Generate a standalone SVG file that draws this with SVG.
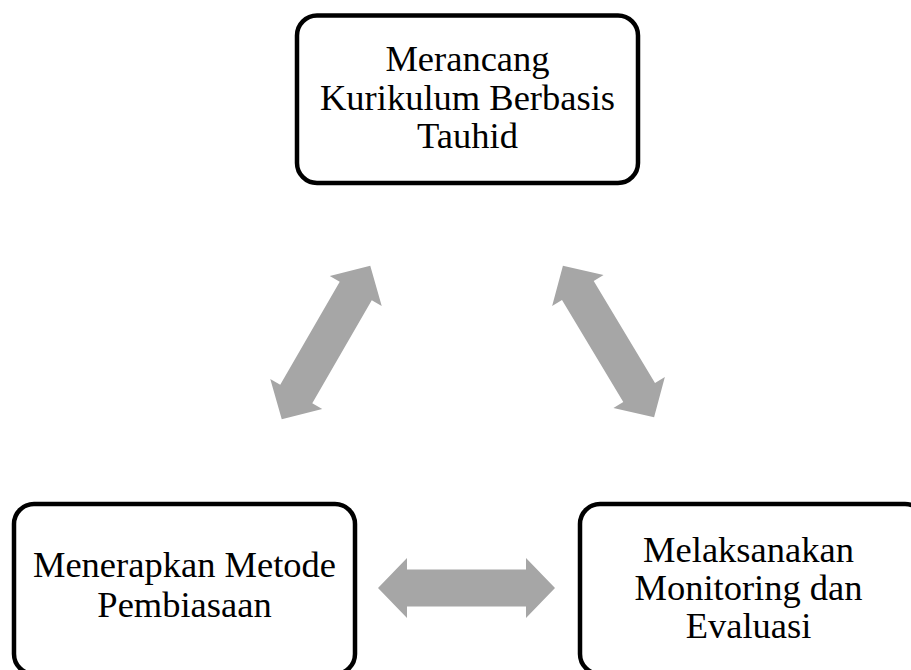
<svg xmlns="http://www.w3.org/2000/svg" width="911" height="670" viewBox="0 0 911 670">
<defs>
<style>
.box{fill:#fff;stroke:#000;stroke-width:4.5}
.lbl{font-family:"Liberation Serif","Times New Roman",serif;font-size:36.5px;fill:#000;text-anchor:middle}
.arr{fill:#A6A6A6}
</style>
<path id="dbl" d="M -88.5 0 L -59.5 -30 L -59.5 -18.5 L 59.5 -18.5 L 59.5 -30 L 88.5 0 L 59.5 30 L 59.5 18.5 L -59.5 18.5 L -59.5 30 Z"/>
</defs>
<rect width="911" height="670" fill="#fff"/>
<g id="connectors">
<use href="#dbl" class="arr" transform="translate(326 342.5) rotate(-60)"/>
<use href="#dbl" class="arr" transform="translate(608.5 341.5) rotate(59)"/>
<use href="#dbl" class="arr" transform="translate(466.5 588)"/>
</g>
<g id="node-top">
<rect class="box" x="297" y="15.5" width="341" height="167.5" rx="20"/>
<text class="lbl" x="467.5" y="71">Merancang</text>
<text class="lbl" x="467.5" y="110">Kurikulum Berbasis</text>
<text class="lbl" x="467.5" y="148">Tauhid</text>
</g>
<g id="node-left">
<rect class="box" x="14" y="504" width="341" height="170" rx="20"/>
<text class="lbl" x="184.5" y="577">Menerapkan Metode</text>
<text class="lbl" x="184.5" y="617">Pembiasaan</text>
</g>
<g id="node-right">
<rect class="box" x="580" y="504" width="345" height="170" rx="20"/>
<text class="lbl" x="748.5" y="562">Melaksanakan</text>
<text class="lbl" x="748.5" y="600">Monitoring dan</text>
<text class="lbl" x="748.5" y="638">Evaluasi</text>
</g>
</svg>
